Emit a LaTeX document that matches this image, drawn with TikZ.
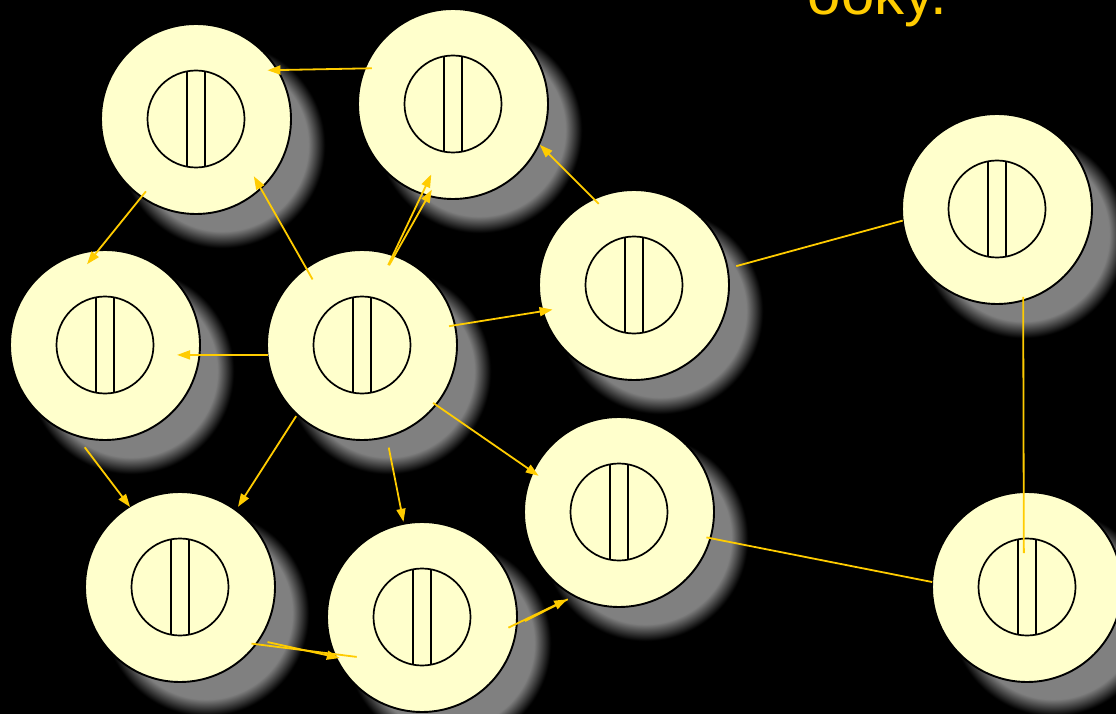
\documentclass[tikz,border=0pt]{standalone}
\usepackage{fontspec}
\setsansfont{Liberation Sans}
\usetikzlibrary{arrows.meta}

\definecolor{cellfill}{HTML}{FFFFCC}
\definecolor{signal}{HTML}{FFCC00}
\pgfdeclareradialshading{cellshadow}{\pgfpoint{0bp}{0bp}}{%
  color(0bp)=(gray); color(20.5bp)=(gray); color(24.5bp)=(black); color(50bp)=(black)}

\begin{document}
\begin{tikzpicture}[x=1pt,y=-1pt,>={Triangle[length=13pt,width=9pt]},
  line width=1.9pt]
  \tikzstyle{cell}=[circle,draw=black,fill=cellfill,minimum size=190pt,
    inner sep=0pt,outer sep=0pt,
    path picture={
      \draw[line width=1.7pt] (path picture bounding box.center) circle (48.5pt);
      \draw[line width=1.7pt] ([shift={(-9pt,-47pt)}]path picture bounding box.center) -- ++(0pt,94pt);
      \draw[line width=1.7pt] ([shift={(9pt,-47pt)}]path picture bounding box.center) -- ++(0pt,94pt);}]
  \tikzstyle{link}=[color=signal,line width=1.8pt]

  \useasboundingbox (0,0) rectangle (1116,714);
  \fill[black] (0,0) rectangle (1116,714);
  \clip (0,0) rectangle (1116,714);

  % cells with their shadows
  \foreach \n/\x/\y in {A/196/119, B/453/104, C/997/209, D/634/285, E/105/345,
      F/362/345, G/619/512, H/180/587, I/422/617, J/1027/587} {
    \shade[shading=cellshadow] (\x+26,\y+26) circle (105);
    \node[cell] (\n) at (\x,\y) {};
  }

  \node[anchor=base west,inner sep=0pt,text=signal,
    font=\sffamily\fontsize{60}{62}\selectfont] (word) at (807,15) {ooky.};

  \path[link]
    (B.158.4) edge[->,shorten <=-7pt,shorten >=-10pt] (A.31.8)
    (A.235)   edge[->,shorten <=-7pt,shorten >=-18pt] (E.94.2)
    (F.126.5) edge[->,shorten <=-13pt,shorten >=-14pt] (A.-47.6)
    (F.71)    edge[->,shorten <=-11pt,shorten >=-21.5pt] (B.251.8)
    (F.70.5)  edge[->,shorten <=-11pt,shorten >=-7pt] (B.255.6)
    (D.115.7) edge[->,shorten <=-7pt,shorten >=1pt] (B.-25.8)
    (D.10.7)  edge[shorten <=9pt] (C.187.2)
    (F.12.6)  edge[->,shorten <=-6pt,shorten >=-10pt] (D.196.7)
    (F.186.6) edge[->,shorten >=-22.4pt] (E.-6.65)
    (F.227.7) edge[->,shorten <=2pt,shorten >=4pt] (H.54)
    (F.-39.1) edge[->,shorten <=-3.3pt,shorten >=-7pt] (G.155.8)
    (F.-75.4) edge[->,shorten <=11pt,shorten >=2pt] (I.101.9)
    (E.252.8) edge[->,shorten <=15pt,shorten >=-0.7pt] (H.122)
    (H.-37.5) edge[shorten <=-4.4pt,shorten >=-22.3pt] (I.203)
    (H.-34)   edge[->,shorten <=9pt,shorten >=-4pt] (I.205.2)
    (I.-4.4)  edge[->,shorten <=-9.3pt,shorten >=8pt] (G.242.8)
    (I.-5)    edge[shorten <=9.3pt,shorten >=7.4pt] (G.242.1)
    (G.-16.4) edge[shorten <=-4pt] (J.177.6)
    (C.-74.1) edge[shorten <=-3.4pt,shorten >=-61pt] (J.92.4);
\end{tikzpicture}
\end{document}
